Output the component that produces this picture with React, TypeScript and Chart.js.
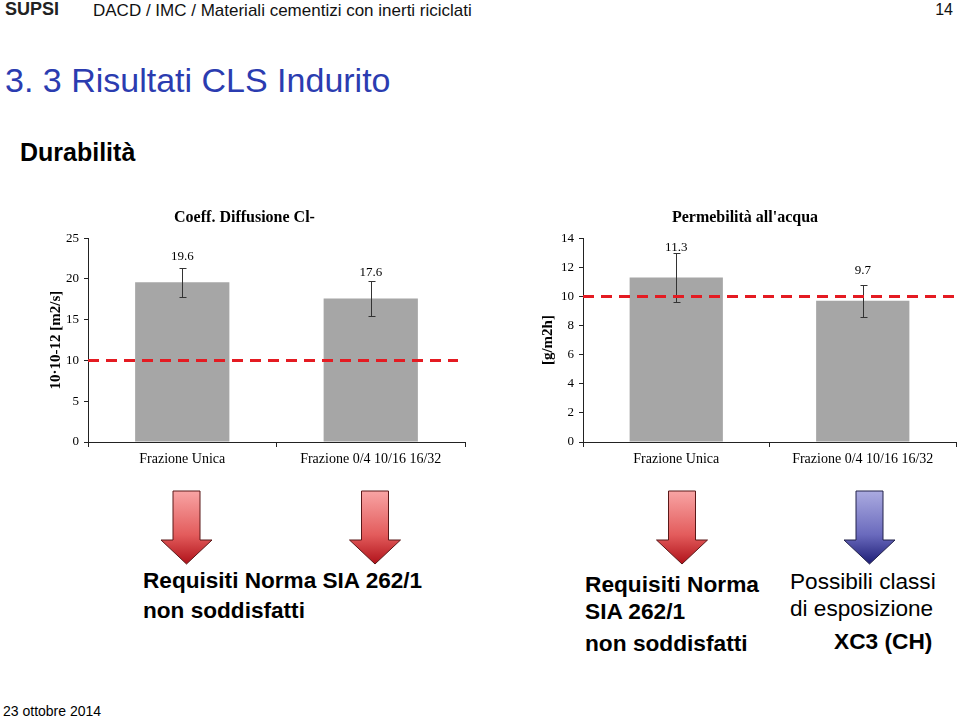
import React, { useEffect, useRef } from "react";
import { Chart, registerables } from "chart.js";

Chart.register(...registerables);

// ---- data ----
const categories = ["Frazione Unica", "Frazione 0/4 10/16 16/32"];

const diffusionTitle = "Coeff. Diffusione Cl-";
const diffusionAxisTitle = "10·10-12 [m2/s]";
const diffusionValues = [19.6, 17.6];
const diffusionErrors = [1.8, 2.1];
const diffusionLimit = 10;
const diffusionMax = 25;
const diffusionStep = 5;

const permeabilityTitle = "Permebilità all'acqua";
const permeabilityAxisTitle = "[g/m2h]";
const permeabilityValues = [11.3, 9.7];
const permeabilityErrors = [1.7, 1.1];
const permeabilityLimit = 10;
const permeabilityMax = 14;
const permeabilityStep = 2;

const SERIF = '"Liberation Serif", "Times New Roman", serif';
const SANS = '"Liberation Sans", Arial, sans-serif';

const overlayPlugin = {
  id: "overlay",
  afterDatasetsDraw(chart: any, _args: any, opts: any) {
    const { ctx, chartArea, scales } = chart;
    const y = scales.y;
    const meta = chart.getDatasetMeta(0);
    const ds = chart.data.datasets[0];
    ctx.save();
    // error bars
    meta.data.forEach((bar: any, i: number) => {
      const v = ds.data[i] as number;
      const e = opts.errors[i];
      const x = Math.round(bar.x) + 0.5;
      const yt = Math.round(y.getPixelForValue(v + e)) + 0.5;
      const yb = Math.round(y.getPixelForValue(v - e)) + 0.5;
      ctx.strokeStyle = "#333";
      ctx.lineWidth = 1;
      ctx.beginPath();
      ctx.moveTo(x, yt);
      ctx.lineTo(x, yb);
      ctx.moveTo(x - 3, yt);
      ctx.lineTo(x + 4, yt);
      ctx.moveTo(x - 3, yb);
      ctx.lineTo(x + 4, yb);
      ctx.stroke();
    });
    // limit line
    const ly = y.getPixelForValue(opts.limit);
    ctx.strokeStyle = "#e41b22";
    ctx.lineWidth = 3;
    ctx.setLineDash([11, 7]);
    ctx.beginPath();
    ctx.moveTo(chartArea.left, ly);
    ctx.lineTo(chartArea.right - opts.lineEndGap, ly);
    ctx.stroke();
    ctx.setLineDash([]);
    // value labels
    meta.data.forEach((bar: any, i: number) => {
      const v = ds.data[i] as number;
      ctx.fillStyle = "#000";
      ctx.font = `13px ${SERIF}`;
      ctx.textAlign = "center";
      ctx.textBaseline = "middle";
      ctx.fillText(v.toFixed(1), bar.x, bar.y - opts.labelOffset);
    });
    ctx.restore();
  },
};

type Cfg = {
  values: number[];
  errors: number[];
  limit: number;
  max: number;
  step: number;
  title: string;
  axisTitle: string;
  yWidth: number;
  yTitlePad: number;
  padRight: number;
  labelOffset: number;
  lineEndGap: number;
};

function makeConfig(c: Cfg): any {
  return {
    type: "bar",
    data: {
      labels: categories,
      datasets: [
        {
          data: c.values,
          backgroundColor: "#a6a6a6",
          borderWidth: 0,
          barPercentage: 1,
          categoryPercentage: 0.5,
        },
      ],
    },
    options: {
      responsive: false,
      animation: false,
      layout: { padding: { left: 0, right: c.padRight, top: 0, bottom: 0 } },
      plugins: {
        legend: { display: false },
        tooltip: { enabled: false },
        title: {
          display: true,
          text: c.title,
          color: "#000",
          font: { family: SERIF, size: 16, weight: "bold" },
          padding: { top: 8, bottom: 11 },
        },
        overlay: {
          errors: c.errors,
          limit: c.limit,
          labelOffset: c.labelOffset,
          lineEndGap: c.lineEndGap,
        },
      },
      scales: {
        x: {
          grid: {
            offset: true,
            drawOnChartArea: false,
            drawTicks: true,
            tickLength: 5,
            color: "#222",
          },
          border: { display: true, color: "#222", width: 1 },
          ticks: {
            color: "#000",
            font: { family: SERIF, size: 14 },
            padding: 4,
            maxRotation: 0,
            autoSkip: false,
          },
          afterFit: (s: any) => {
            s.height = 38;
          },
        },
        y: {
          min: 0,
          max: c.max,
          grid: {
            drawOnChartArea: false,
            drawTicks: true,
            tickLength: 4,
            color: "#222",
          },
          border: { display: true, color: "#222", width: 1 },
          ticks: {
            stepSize: c.step,
            color: "#000",
            font: { family: SERIF, size: 13 },
            padding: 5,
          },
          title: {
            display: true,
            text: c.axisTitle,
            color: "#000",
            font: { family: SERIF, size: 15, weight: "bold" },
            padding: { top: c.yTitlePad, bottom: 0 },
          },
          afterFit: (s: any) => {
            s.width = c.yWidth;
          },
        },
      },
    },
    plugins: [overlayPlugin],
  };
}

function BarChart(props: { cfg: Cfg; left: number; top: number; width: number; height: number }) {
  const ref = useRef<HTMLCanvasElement | null>(null);
  useEffect(() => {
    if (!ref.current) return;
    const chart = new Chart(ref.current, makeConfig(props.cfg));
    return () => chart.destroy();
  }, []);
  return (
    <canvas
      ref={ref}
      width={props.width}
      height={props.height}
      style={{
        position: "absolute",
        left: props.left,
        top: props.top,
        width: props.width,
        height: props.height,
      }}
    />
  );
}

function Arrow(props: { cx: number; fill: string; stroke: string }) {
  const { cx } = props;
  const top = 491;
  const base = 540;
  const tip = 564;
  const sw = 13.5;
  const hw = 25.5;
  const d = `M ${cx - sw} ${top} L ${cx + sw} ${top} L ${cx + sw} ${base} L ${cx + hw} ${base} L ${cx} ${tip} L ${cx - hw} ${base} L ${cx - sw} ${base} Z`;
  return <path d={d} fill={props.fill} stroke={props.stroke} strokeWidth={1} />;
}

export default function App() {
  const left: Cfg = {
    values: diffusionValues,
    errors: diffusionErrors,
    limit: diffusionLimit,
    max: diffusionMax,
    step: diffusionStep,
    title: diffusionTitle,
    axisTitle: diffusionAxisTitle,
    yWidth: 64,
    yTitlePad: 23,
    padRight: 15,
    labelOffset: 26,
    lineEndGap: 7,
  };
  const right: Cfg = {
    values: permeabilityValues,
    errors: permeabilityErrors,
    limit: permeabilityLimit,
    max: permeabilityMax,
    step: permeabilityStep,
    title: permeabilityTitle,
    axisTitle: permeabilityAxisTitle,
    yWidth: 49,
    yTitlePad: 5,
    padRight: 4,
    labelOffset: 30,
    lineEndGap: 2,
  };

  return (
    <div
      style={{
        position: "fixed",
        left: 0,
        top: 0,
        width: 960,
        height: 716,
        background: "#fff",
        overflow: "hidden",
      }}
    >
      <svg
        width={960}
        height={716}
        style={{ position: "absolute", left: 0, top: 0 }}
        fontFamily={SANS}
      >
        <defs>
          <linearGradient id="redGrad" gradientUnits="userSpaceOnUse" x1="0" y1="491" x2="0" y2="564">
            <stop offset="0" stopColor="#f8a4a4" />
            <stop offset="0.6" stopColor="#e35c5c" />
            <stop offset="1" stopColor="#b0121a" />
          </linearGradient>
          <linearGradient id="blueGrad" gradientUnits="userSpaceOnUse" x1="0" y1="491" x2="0" y2="564">
            <stop offset="0" stopColor="#ababe0" />
            <stop offset="0.6" stopColor="#6a6abd" />
            <stop offset="1" stopColor="#1d1d76" />
          </linearGradient>
        </defs>

        <text x={5} y={15} fontSize={18} fontWeight="bold" fill="#222">SUPSI</text>
        <text x={93} y={16} fontSize={17} fill="#111">DACD / IMC / Materiali cementizi con inerti riciclati</text>
        <text x={953} y={15} fontSize={16} fill="#111" textAnchor="end">14</text>

        <text x={5} y={92} fontSize={34} fill="#2b3cb0">3. 3 Risultati CLS Indurito</text>
        <text x={20} y={161} fontSize={25} fontWeight="bold" fill="#000">Durabilità</text>

        <Arrow cx={186.5} fill="url(#redGrad)" stroke="#5a1818" />
        <Arrow cx={375} fill="url(#redGrad)" stroke="#5a1818" />
        <Arrow cx={682} fill="url(#redGrad)" stroke="#5a1818" />
        <Arrow cx={869.5} fill="url(#blueGrad)" stroke="#22224a" />

        <text x={143} y={588} fontSize={22.6} fontWeight="bold" fill="#000">Requisiti Norma SIA 262/1</text>
        <text x={143} y={618} fontSize={22.6} fontWeight="bold" fill="#000">non soddisfatti</text>

        <text x={585} y={592} fontSize={22.7} fontWeight="bold" fill="#000">Requisiti Norma</text>
        <text x={585} y={619} fontSize={22.7} fontWeight="bold" fill="#000">SIA 262/1</text>
        <text x={585} y={651} fontSize={22.7} fontWeight="bold" fill="#000">non soddisfatti</text>

        <text x={790} y={589} fontSize={22.6} fill="#000">Possibili classi</text>
        <text x={790} y={616} fontSize={22.6} fill="#000">di esposizione</text>
        <text x={834} y={649} fontSize={22.7} fontWeight="bold" fill="#000">XC3 (CH)</text>

        <text x={3} y={716} fontSize={14} fill="#000">23 ottobre 2014</text>
      </svg>

      <BarChart cfg={left} left={24} top={200} width={456} height={280} />
      <BarChart cfg={right} left={534} top={200} width={426} height={280} />
    </div>
  );
}
